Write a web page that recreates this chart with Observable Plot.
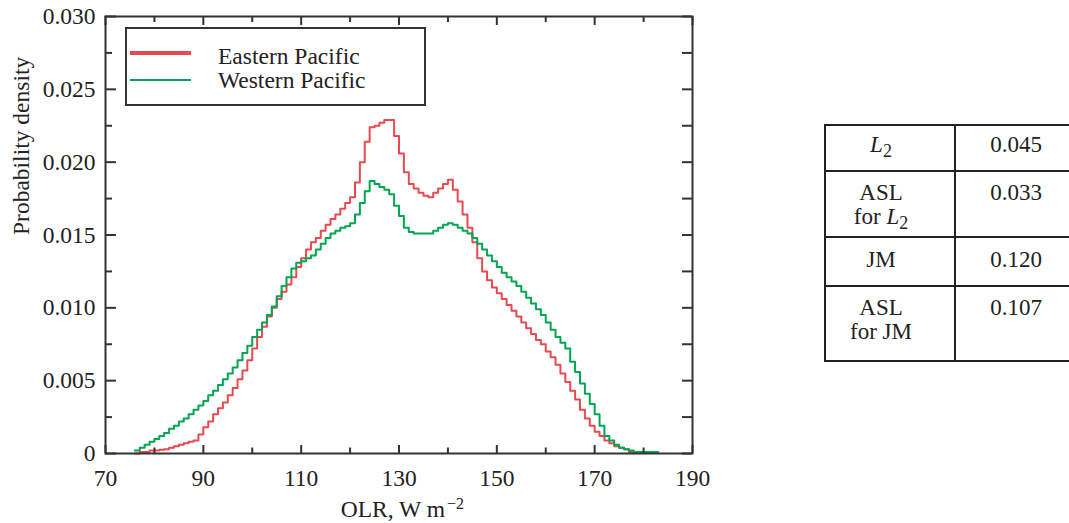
<!DOCTYPE html>
<html>
<head>
<meta charset="utf-8">
<script src="https://cdn.jsdelivr.net/npm/d3@7"></script>
<script src="https://cdn.jsdelivr.net/npm/@observablehq/plot@0.6"></script>
<style>
  html, body { margin: 0; padding: 0; background: white; }
  body { width: 1069px; height: 523px; overflow: hidden; position: relative;
         font-family: "Liberation Serif", "Times New Roman", serif; color: #222; }
  #chart { position: absolute; left: 0; top: 0; }
  .abs { position: absolute; }
  .txt { position: absolute; font-size: 23px; line-height: 22px; white-space: nowrap; text-align: center; transform: translateX(-50%); }
  .ltxt { position: absolute; font-size: 23.5px; line-height: 24px; white-space: nowrap; }
  sub { font-size: 0.78em; vertical-align: -0.28em; line-height: 0; }
  .hl { position: absolute; background: #222; height: 2px; }
</style>
</head>
<body>
<div id="chart"></div>

<!-- legend -->
<div class="abs" style="left:125px; top:27px; width:301px; height:79px; border:2px solid #333; box-sizing:border-box;"></div>
<div class="abs" style="left:130px; top:51px; width:61px; height:4px; background:#e84a4f;"></div>
<div class="abs" style="left:130px; top:79px; width:61px; height:2px; background:#00a651;"></div>
<div class="ltxt" id="leg1" style="left:218px; top:44px;"></div>
<div class="ltxt" id="leg2" style="left:218px; top:68px;"></div>

<!-- statistics table -->
<div class="abs" style="left:824px; top:124px; width:270px; height:238px; border:2px solid #222; box-sizing:border-box;"></div>
<div class="abs" style="left:954px; top:124px; width:2px; height:238px; background:#222;"></div>
<div class="hl" style="left:824px; top:170px; width:270px;"></div>
<div class="hl" style="left:824px; top:236px; width:270px;"></div>
<div class="hl" style="left:824px; top:285px; width:270px;"></div>
<div id="tablecells"></div>

<script>
// ---------------- data ----------------
const olr = [76,77,78,79,80,81,82,83,84,85,86,87,88,89,90,91,92,93,94,95,96,97,98,99,
  100,101,102,103,104,105,106,107,108,109,110,111,112,113,114,115,116,117,118,119,
  120,121,122,123,124,125,126,127,128,129,130,131,132,133,134,135,136,137,138,139,
  140,141,142,143,144,145,146,147,148,149,150,151,152,153,154,155,156,157,158,159,
  160,161,162,163,164,165,166,167,168,169,170,171,172,173,174,175,176,177,178,179,
  180,181,182,183];

const easternPacific = [0,0.0001,0.0001,0.0002,0.0002,0.00025,0.0003,0.0004,0.0005,0.0006,0.0007,0.0008,0.0009,0.0013,0.0018,0.0022,0.0027,0.0031,0.0035,0.0040,0.0045,0.0051,0.0057,0.0064,
  0.0072,0.0080,0.0087,0.0094,0.0100,0.0106,0.0111,0.0116,0.0121,0.0128,0.0134,0.0140,0.0145,0.0148,0.0153,0.0157,0.0161,0.0164,0.0168,0.0172,
  0.0176,0.0186,0.0200,0.0214,0.0224,0.0225,0.0227,0.0229,0.0229,0.0218,0.0206,0.0193,0.0185,0.0182,0.0179,0.0177,0.0176,0.0179,0.0182,0.0185,
  0.0188,0.0181,0.0173,0.0164,0.0155,0.0145,0.0134,0.0125,0.0119,0.0114,0.0110,0.0106,0.0102,0.0098,0.0094,0.0090,0.0086,0.0082,0.0078,0.0075,
  0.0070,0.0066,0.0061,0.0055,0.0049,0.0043,0.0037,0.0030,0.0024,0.0019,0.0015,0.0012,0.0009,0.0007,0.0005,0.0004,0.0003,0.0001,0,null,
  null,null,null,null];

const westernPacific = [0.0002,0.0004,0.0006,0.0008,0.0010,0.0012,0.0014,0.0017,0.0019,0.0022,0.0024,0.0027,0.0030,0.0033,0.0036,0.0040,0.0043,0.0047,0.0051,0.0055,0.0059,0.0064,0.0069,0.0074,
  0.0080,0.0085,0.0090,0.0095,0.0101,0.0108,0.0115,0.0121,0.0127,0.0131,0.0132,0.0134,0.0136,0.0140,0.0144,0.0148,0.0151,0.0153,0.0155,0.0156,
  0.0158,0.0164,0.0172,0.0180,0.0187,0.0185,0.0183,0.0181,0.0178,0.0170,0.0163,0.0155,0.0152,0.0151,0.0151,0.0151,0.0151,0.0153,0.0155,0.0157,
  0.0158,0.0157,0.0155,0.0153,0.0151,0.0148,0.0144,0.0140,0.0136,0.0132,0.0128,0.0124,0.0121,0.0118,0.0115,0.0111,0.0107,0.0103,0.0099,0.0095,
  0.0090,0.0085,0.0080,0.0076,0.0072,0.0063,0.0056,0.0048,0.0041,0.0034,0.0027,0.0019,0.0012,0.0009,0.0006,0.0004,0.0003,0.0002,0.0001,0.0001,
  0.0001,0.0001,0.0001,0.0001];

const seriesNames = ["Eastern Pacific", "Western Pacific"];
const seriesColors = ["#e84a4f", "#00a651"];

const xTickLabels = [70, 90, 110, 130, 150, 170, 190];
const xMinorTicks = [80, 100, 120, 140, 160, 180];
const yTickLabels = [0, 0.005, 0.010, 0.015, 0.020, 0.025, 0.030];
const yMinorTicks = [0.0025, 0.0075, 0.0125, 0.0175, 0.0225, 0.0275];

const xLabel = "OLR, W m";
const xLabelSup = "\u22122";
const yLabel = "Probability density";

const statLabels = [["<i>L</i><sub>2</sub>"], ["ASL", "for <i>L</i><sub>2</sub>"], ["JM"], ["ASL", "for JM"]];
const statValues = ["0.045", "0.033", "0.120", "0.107"];

// ---------------- layout ----------------
const W = 1069, H = 523, mL = 105, mR = 377, mT = 16, mB = 70;
const pw = W - mL - mR, ph = H - mT - mB;

const east = olr.map((x, i) => ({x, y: easternPacific[i]}));
const west = olr.map((x, i) => ({x, y: westernPacific[i]}));

const tickStroke = {stroke: "#333", strokeWidth: 2};

const chart = Plot.plot({
  width: W, height: H,
  marginLeft: mL, marginRight: mR, marginTop: mT, marginBottom: mB,
  x: {domain: [70, 190]},
  y: {domain: [0, 0.03]},
  style: {fontFamily: "'Liberation Serif', 'Times New Roman', serif", fontSize: "23.5px", color: "#222", background: "white", overflow: "visible"},
  marks: [
    Plot.line(east, {x: "x", y: "y", curve: "step-after", stroke: seriesColors[0], strokeWidth: 2}),
    Plot.line(west, {x: "x", y: "y", curve: "step-after", stroke: seriesColors[1], strokeWidth: 2}),
    // inward ticks: left
    Plot.tickY(yTickLabels, {y: d => d, insetRight: pw - 11, ...tickStroke}),
    Plot.tickY(yMinorTicks, {y: d => d, insetRight: pw - 7, ...tickStroke}),
    // right
    Plot.tickY(yTickLabels, {y: d => d, insetLeft: pw - 10, ...tickStroke}),
    Plot.tickY(yMinorTicks, {y: d => d, insetLeft: pw - 10, ...tickStroke}),
    // bottom
    Plot.tickX(xTickLabels, {x: d => d, insetTop: ph - 8, ...tickStroke}),
    Plot.tickX(xMinorTicks, {x: d => d, insetTop: ph - 5.5, ...tickStroke}),
    // top
    Plot.tickX(xTickLabels, {x: d => d, insetBottom: ph - 9, ...tickStroke}),
    Plot.tickX(xMinorTicks, {x: d => d, insetBottom: ph - 6, ...tickStroke}),
    Plot.frame({stroke: "#333", strokeWidth: 2}),
    Plot.axisX({ticks: xTickLabels, tickSize: 0, tickPadding: 16, label: null, tickFormat: d => String(d)}),
    Plot.axisY({ticks: yTickLabels, tickSize: 0, tickPadding: 10, label: null, tickFormat: d => d === 0 ? "0" : d.toFixed(3)}),
    Plot.text([yLabel], {text: d => d, frameAnchor: "left", rotate: -90, dx: -84, fill: "#222"}),
    Plot.text([xLabel], {text: d => d, frameAnchor: "bottom", textAnchor: "end", lineAnchor: "bottom", dx: 46, dy: 63, fill: "#222"}),
    Plot.text([xLabelSup], {text: d => d, frameAnchor: "bottom", textAnchor: "start", lineAnchor: "bottom", dx: 48, dy: 55, fontSize: 16, fill: "#222"})
  ]
});
document.getElementById("chart").appendChild(chart);

// legend text
document.getElementById("leg1").textContent = seriesNames[0];
document.getElementById("leg2").textContent = seriesNames[1];

// table text: one element per line so lines never overlap
const rowTops = [134, 182, 249, 297];
const lineStep = 24;
const cells = document.getElementById("tablecells");
statLabels.forEach((lines, i) => {
  lines.forEach((line, j) => {
    const d = document.createElement("div");
    d.className = "txt";
    d.style.left = "881px";
    d.style.top = (rowTops[i] + j * lineStep) + "px";
    d.innerHTML = line;
    cells.appendChild(d);
  });
  const v = document.createElement("div");
  v.className = "txt";
  v.style.left = "1016px";
  v.style.top = rowTops[i] + "px";
  v.textContent = statValues[i];
  cells.appendChild(v);
});
</script>
</body>
</html>
